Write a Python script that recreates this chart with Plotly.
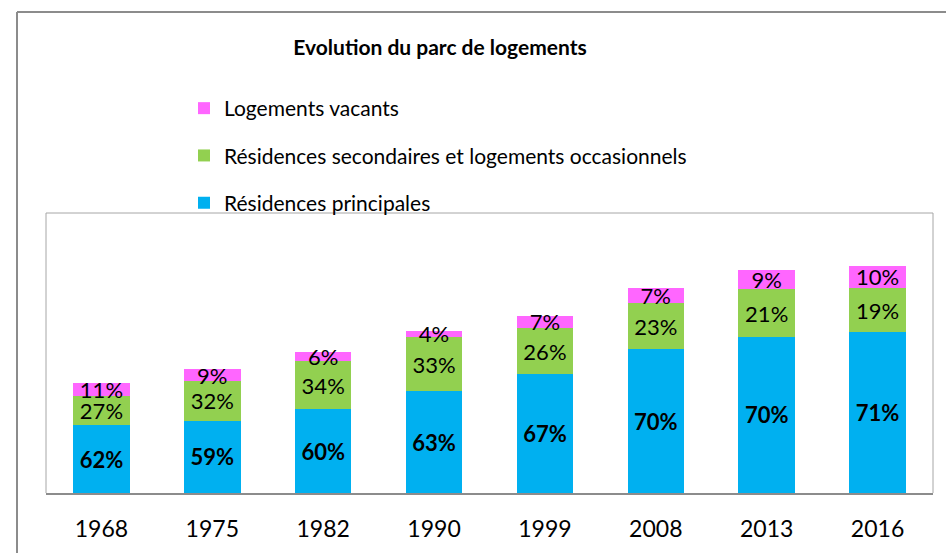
import plotly.graph_objects as go

years = ["1968", "1975", "1982", "1990", "1999", "2008", "2013", "2016"]
res_principales = [676, 723, 836, 1020, 1186, 1436, 1563, 1606]
res_secondaires = [290, 397, 480, 540, 467, 467, 473, 447]
log_vacants = [130, 120, 90, 63, 120, 147, 197, 220]

pct_principales = ["62%", "59%", "60%", "63%", "67%", "70%", "70%", "71%"]
pct_secondaires = ["27%", "32%", "34%", "33%", "26%", "23%", "21%", "19%"]
pct_vacants = ["11%", "9%", "6%", "4%", "7%", "7%", "9%", "10%"]

FONT = "Lato"
W, H = 946, 553
L, R, T, B = 46, 13, 213, 60
pw, ph = W - L - R, H - T - B


def px_x(x):
    return (x - L) / pw


def px_y(y):
    return (H - B - y) / ph


fig = go.Figure()
series = [
    ("Résidences principales", res_principales, pct_principales, "#00B0F0", True, 3),
    ("Résidences secondaires et logements occasionnels", res_secondaires, pct_secondaires, "#92D050", False, 2),
    ("Logements vacants", log_vacants, pct_vacants, "#FF66FF", False, 1),
]
for i, (name, vals, pct, col, bold, rank) in enumerate(series):
    fig.add_trace(go.Bar(
        x=years, y=vals, name=name, legendgroup=f"g{i}", legendrank=rank,
        marker=dict(color=col, line=dict(width=0)),
        text=[f"<b>{p}</b>" if bold else p for p in pct],
        textposition="inside", insidetextanchor="middle",
        constraintext="none", textangle=0, cliponaxis=False,
        textfont=dict(family=FONT, size=22, color="black"),
        hoverinfo="skip",
    ))

fig.update_layout(
    width=W, height=H,
    margin=dict(l=L, r=R, t=T, b=B),
    barmode="stack", bargap=0.49,
    paper_bgcolor="white", plot_bgcolor="white",
    title=dict(text="<b>Evolution du parc de logements</b>",
               x=440 / W, xanchor="center", y=1 - 48 / H, yanchor="middle",
               font=dict(family=FONT, size=21, color="black")),
    legend=dict(x=px_x(184), xanchor="left", y=px_y(88), yanchor="top",
                traceorder="grouped", tracegroupgap=17,
                font=dict(family=FONT, size=21, color="black"),
                bgcolor="rgba(0,0,0,0)"),
    xaxis=dict(showline=True, linecolor="#8c8c8c", linewidth=2, mirror=False,
               ticks="", showgrid=False, ticklabelstandoff=14, automargin=False,
               tickfont=dict(family=FONT, size=23, color="black")),
    yaxis=dict(range=[0, 2800], showticklabels=False, showgrid=False,
               zeroline=False, ticks="", showline=False, automargin=False),
    showlegend=True,
)
# plot area frame (left, top, right) and outer chart border
fig.add_shape(type="line", xref="paper", yref="paper", x0=0, x1=0, y0=0, y1=1,
              line=dict(color="#a6a6a6", width=1))
fig.add_shape(type="line", xref="paper", yref="paper", x0=0, x1=1, y0=1, y1=1,
              line=dict(color="#a6a6a6", width=1))
fig.add_shape(type="line", xref="paper", yref="paper", x0=1, x1=1, y0=0, y1=1,
              line=dict(color="#a6a6a6", width=1))
fig.add_shape(type="line", xref="paper", yref="paper", x0=px_x(17), x1=px_x(17),
              y0=px_y(12), y1=px_y(560), line=dict(color="#8c8c8c", width=2))
fig.add_shape(type="line", xref="paper", yref="paper", x0=px_x(17), x1=px_x(960),
              y0=px_y(12), y1=px_y(12), line=dict(color="#8c8c8c", width=2))

fig.write_html("out.html", config={"displayModeBar": False},
               post_script="document.body.style.margin='0';")
